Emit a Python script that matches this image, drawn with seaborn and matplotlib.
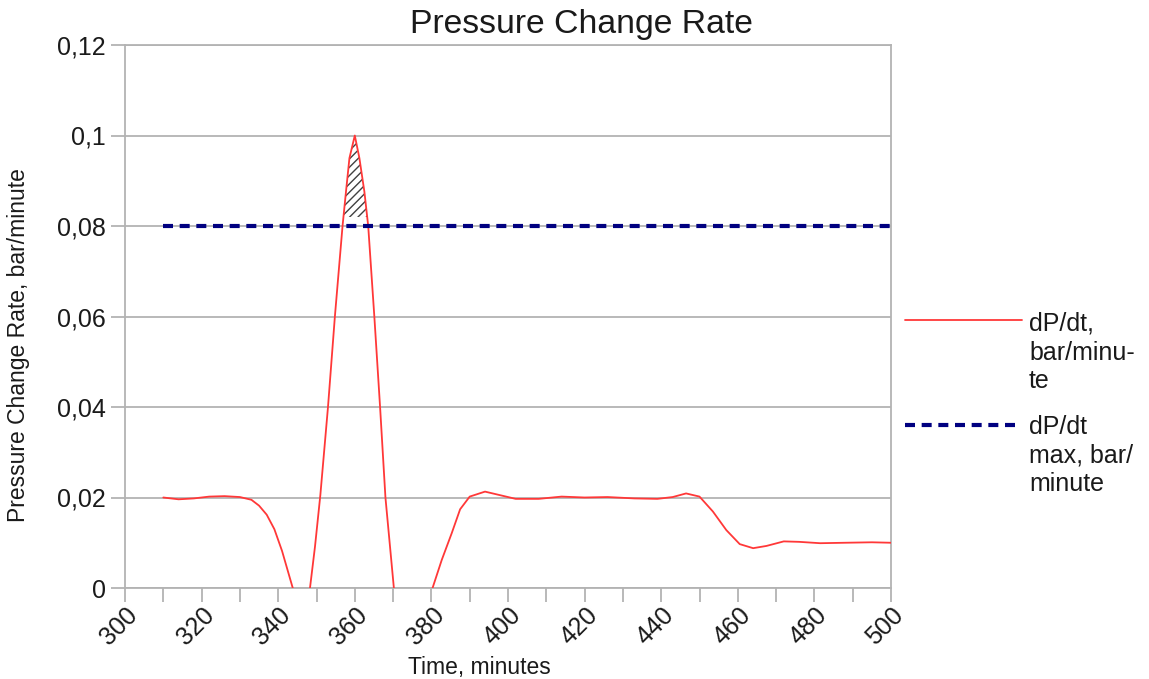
import numpy as np
import pandas as pd
import matplotlib
matplotlib.use('Agg')
import matplotlib.pyplot as plt
import matplotlib.transforms as mtransforms
import seaborn as sns
from matplotlib.lines import Line2D
from matplotlib.ticker import MultipleLocator

# values (minutes, bar/minute)
time = [310, 314, 318, 322, 326, 330, 333, 335, 337, 339, 341, 343.8, 346, 348.3,
        349.6, 351, 353, 354.8, 356.8, 357.7, 358.6, 360, 361.2, 362.5, 363.5, 365.1,
        366.6, 368, 369.2, 370.2, 375, 380.3, 382.7, 385.3, 387.5, 390, 394, 398,
        402, 408, 414, 420, 426, 433, 439, 443, 446.5, 450, 453.5, 457, 460.5, 464,
        467.5, 472, 476, 481.5, 488, 495, 500]
rate = [0.0200, 0.0196, 0.0198, 0.0202, 0.0203, 0.0201, 0.0195, 0.0182, 0.0162, 0.0130,
        0.0082, 0.0, -0.005, 0.0,
        0.0091, 0.0205, 0.040, 0.060, 0.080, 0.0876, 0.095, 0.100, 0.095, 0.0876, 0.080, 0.060,
        0.040, 0.020, 0.0091, 0.0, -0.020, 0.0, 0.0062, 0.0121, 0.0174, 0.0202, 0.0213, 0.0205,
        0.0197, 0.0197, 0.0202, 0.0200, 0.0201, 0.0198, 0.0197, 0.0201, 0.0209, 0.0202, 0.0169,
        0.0128, 0.0097, 0.0088,
        0.0093, 0.0103, 0.0102, 0.0099, 0.0100, 0.0101, 0.0100]

limit_time = [310, 500]
limit_rate = [0.08, 0.08]
hatch_floor = 0.082

x_ticks = list(range(300, 501, 20))
y_ticks = [0, 0.02, 0.04, 0.06, 0.08, 0.1, 0.12]
y_tick_labels = ['0', '0,02', '0,04', '0,06', '0,08', '0,1', '0,12']
legend_labels = ['dP/dt,\nbar/minu-\nte', 'dP/dt\nmax, bar/\nminute']

red = '#ff3838'
navy = '#000080'
grey = '#b3b3b3'
dash = (0, (2.4, 1.6))

sns.set_style('white')
plt.rcParams['font.family'] = ['Liberation Sans', 'DejaVu Sans']
plt.rcParams['hatch.linewidth'] = 1.0

W, H = 1149, 679
fig = plt.figure(figsize=(W / 100, H / 100), dpi=100)
ax = fig.add_axes([125 / W, 1 - 588 / H, 766 / W, 543 / H])

df = pd.DataFrame({'time': time, 'rate': rate})
lim = pd.DataFrame({'time': limit_time, 'rate': limit_rate})

sns.lineplot(data=df, x='time', y='rate', color=red, lw=1.3, ax=ax, zorder=3)
sns.lineplot(data=lim, x='time', y='rate', color=navy, lw=3, linestyle=dash, ax=ax, zorder=4)

# hatched area where the rate goes over the limit
ax.fill_between(df['time'], hatch_floor, df['rate'], where=df['rate'] > hatch_floor,
                interpolate=True, facecolor='none', edgecolor='#404040', hatch='////',
                linewidth=0, zorder=2)

ax.set_xlim(300, 500)
ax.set_ylim(0, 0.12)
ax.set_xticks(x_ticks)
ax.xaxis.set_minor_locator(MultipleLocator(10))
ax.set_yticks(y_ticks, y_tick_labels)

ax.tick_params(which='both', direction='out', length=10, width=1.3, color=grey,
               labelcolor='#1a1a1a', left=True, bottom=True)
ax.tick_params(axis='y', labelsize=18, pad=4)
ax.tick_params(axis='x', labelsize=18, pad=7)
offset = mtransforms.ScaledTranslation(9 / 100, 0, fig.dpi_scale_trans)
for lbl in ax.get_xticklabels():
    lbl.set_rotation(45)
    lbl.set_ha('right')
    lbl.set_va('center')
    lbl.set_rotation_mode('anchor')
    lbl.set_transform(lbl.get_transform() + offset)

ax.yaxis.grid(True, color=grey, lw=1.3)
ax.xaxis.grid(False)
for s in ax.spines.values():
    s.set_color(grey)
    s.set_linewidth(1.3)

ax.set_xlabel('Time, minutes', fontsize=16.5, color='#1a1a1a')
ax.xaxis.set_label_coords((479 - 125) / 766, (588 - 656) / 543)
ax.set_ylabel('Pressure Change Rate, bar/minute', fontsize=16.5, color='#1a1a1a')
ax.yaxis.set_label_coords((30 - 125) / 766, (588 - 345) / 543)

fig.text(581 / W, 1 - 24 / H, 'Pressure Change Rate', ha='center', va='center',
         fontsize=24.3, color='#1a1a1a')

# legend drawn by hand so the keys sit on the first text line
fig.add_artist(Line2D([905 / W, 1022 / W], [1 - 320 / H] * 2, color=red, lw=1.3,
                      transform=fig.transFigure))
fig.add_artist(Line2D([905 / W, 1015 / W], [1 - 425 / H] * 2, color=navy, lw=3,
                      linestyle=dash, transform=fig.transFigure))
fig.text(1029 / W, 1 - 312 / H, legend_labels[0], ha='left', va='top', fontsize=18,
         linespacing=1.24, color='#1a1a1a')
fig.text(1029 / W, 1 - 415 / H, legend_labels[1], ha='left', va='top', fontsize=18,
         linespacing=1.24, color='#1a1a1a')

fig.savefig('out.png', dpi=100)
